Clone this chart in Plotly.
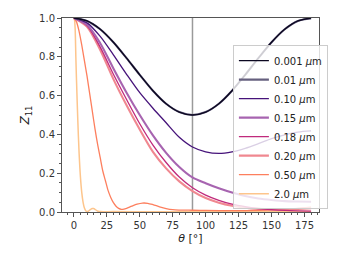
import plotly.graph_objects as go

theta10 = [0, 10, 20, 30, 40, 50, 60, 70, 80, 90, 100, 110, 120, 130, 140, 150, 160, 170, 180]

z_0001 = [1.0, 0.985, 0.942, 0.875, 0.793, 0.707, 0.625, 0.558, 0.515, 0.5, 0.515, 0.558, 0.625, 0.707, 0.793, 0.875, 0.942, 0.985, 1.0]
z_001 = [1.0, 0.985, 0.942, 0.875, 0.793, 0.707, 0.625, 0.558, 0.515, 0.5, 0.515, 0.558, 0.625, 0.707, 0.793, 0.875, 0.942, 0.985, 0.997]
z_010 = [1.0, 0.975, 0.905, 0.81, 0.71, 0.615, 0.535, 0.46, 0.385, 0.335, 0.31, 0.302, 0.31, 0.328, 0.352, 0.378, 0.398, 0.412, 0.418]
z_015 = [1.0, 0.965, 0.87, 0.74, 0.615, 0.5, 0.395, 0.305, 0.232, 0.178, 0.148, 0.122, 0.1, 0.082, 0.07, 0.062, 0.056, 0.054, 0.053]
z_018 = [1.0, 0.96, 0.85, 0.71, 0.58, 0.455, 0.345, 0.255, 0.18, 0.125, 0.087, 0.06, 0.04, 0.027, 0.018, 0.012, 0.008, 0.006, 0.005]
z_020 = [1.0, 0.955, 0.835, 0.685, 0.55, 0.425, 0.31, 0.225, 0.158, 0.108, 0.072, 0.048, 0.032, 0.022, 0.016, 0.013, 0.013, 0.016, 0.02]

theta_050 = [0, 2, 4, 6, 8, 10, 12, 14, 16, 18, 20, 22, 24, 26, 28, 30, 32, 34, 36, 38, 40, 44, 48, 52, 56, 60, 65, 70, 75, 80, 90, 100, 120, 140, 160, 170, 180]
z_050 = [1.0, 0.98, 0.93, 0.86, 0.78, 0.70, 0.61, 0.52, 0.43, 0.35, 0.28, 0.21, 0.16, 0.11, 0.075, 0.048, 0.03, 0.019, 0.014, 0.015, 0.019, 0.03, 0.04, 0.046, 0.045, 0.038, 0.027, 0.018, 0.012, 0.01, 0.009, 0.008, 0.007, 0.008, 0.012, 0.018, 0.025]

theta_200 = [0, 0.5, 1, 1.5, 2, 3, 4, 5, 6, 7, 8, 9, 10, 11, 12, 13, 14, 15, 16, 17, 18, 19, 20, 30, 60, 90, 120, 150, 180]
z_200 = [1.0, 0.99, 0.94, 0.8, 0.68, 0.47, 0.3, 0.18, 0.1, 0.05, 0.02, 0.006, 0.002, 0.004, 0.01, 0.015, 0.018, 0.018, 0.014, 0.009, 0.005, 0.003, 0.002, 0.002, 0.001, 0.001, 0.001, 0.001, 0.002]

labels = ["0.001 <i>µ</i>m", "0.01 <i>µ</i>m", "0.10 <i>µ</i>m", "0.15 <i>µ</i>m",
          "0.18 <i>µ</i>m", "0.20 <i>µ</i>m", "0.50 <i>µ</i>m", "2.0 <i>µ</i>m"]
colors = ["#0b0720", "#66607f", "#46137a", "#a764b0", "#c02a7c", "#f08890", "#fd7f5e", "#fdc58c"]
widths = [1.4, 2.1, 1.3, 2.1, 1.3, 2.1, 1.3, 1.5]

series = [
    (theta10, z_0001), (theta10, z_001), (theta10, z_010), (theta10, z_015),
    (theta10, z_018), (theta10, z_020), (theta_050, z_050), (theta_200, z_200),
]

ref_angle = 90

fig = go.Figure()
order = [7, 6, 5, 4, 3, 2, 1, 0]
for i in order:
    x, y = series[i]
    fig.add_trace(go.Scatter(
        x=x, y=y, mode="lines", name=labels[i],
        line=dict(color=colors[i], width=widths[i], shape="spline", smoothing=0.8),
        legendrank=i + 1,
    ))

fig.add_vline(x=ref_angle, line=dict(color="#9a9a9a", width=1.5), layer="below")

axis_common = dict(
    showline=True, linecolor="#555555", linewidth=1, mirror=True,
    ticks="outside", ticklen=4, tickwidth=1, tickcolor="#555555",
    showgrid=False, zeroline=False,
    tickfont=dict(family="DejaVu Sans", size=10, color="#333333"),
)

fig.update_xaxes(
    range=[-9, 186], tickvals=[0, 25, 50, 75, 100, 125, 150, 175],
    minor=dict(ticks="outside", ticklen=2, tickcolor="#555555", dtick=5, tick0=0),
    title=dict(text="<i>θ</i> [°]", font=dict(family="DejaVu Sans", size=11, color="#222222"), standoff=4),
    **axis_common,
)
fig.update_yaxes(
    range=[0, 1], tickvals=[0, 0.2, 0.4, 0.6, 0.8, 1.0], tickformat=".1f",
    minor=dict(ticks="outside", ticklen=2, tickcolor="#555555", dtick=0.05, tick0=0),
    title=dict(text="<i>Z</i><sub>11</sub>", font=dict(family="DejaVu Sans", size=12, color="#222222"), standoff=6),
    **axis_common,
)

fig.update_layout(
    width=340, height=255,
    margin=dict(l=62, r=15, t=16, b=43),
    paper_bgcolor="white", plot_bgcolor="white",
    showlegend=True,
    legend=dict(
        x=0.665, y=0.86, xanchor="left", yanchor="top",
        bgcolor="rgba(255,255,255,0.8)", bordercolor="#cccccc", borderwidth=1,
        font=dict(family="DejaVu Sans", size=10, color="#222222"),
        tracegroupgap=0, itemwidth=30,
    ),
)

fig.write_html("out.html", config={"displayModeBar": False},
               post_script="document.body.style.margin='0';")
